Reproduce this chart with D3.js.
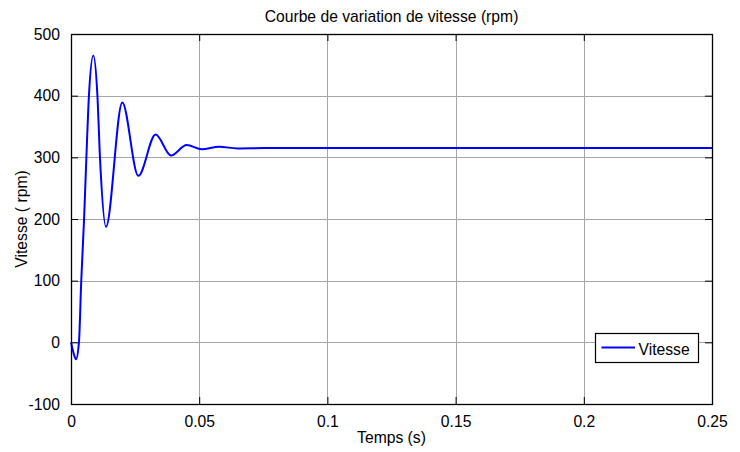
<!DOCTYPE html>
<html>
<head>
<meta charset="utf-8">
<script src="https://cdn.jsdelivr.net/npm/d3@7"></script>
<style>
  html, body { margin: 0; padding: 0; background: #fff; }
  svg { display: block; }
  text { font-family: "Liberation Sans", Arial, Helvetica, sans-serif; fill: #000; }
</style>
</head>
<body>
<svg id="chart" width="740" height="452"></svg>
<script>
// Speed response samples (time in s, speed in rpm)
const timeS = [0, 0.00105, 0.00195, 0.0031, 0.0040, 0.0051, 0.0060, 0.0070, 0.0087,
               0.0103, 0.0113, 0.01365, 0.0200, 0.02625,
               0.0330, 0.0390, 0.0451, 0.0510, 0.0578, 0.0650, 0.0750, 0.25];
const speedRpm = [0, -18, -27.5, 0, 100, 200, 300, 400, 465,
                  400, 300, 187.5, 389, 270,
                  337, 303, 320, 313, 317, 314.5, 315, 315];

const xTicks = [0, 0.05, 0.1, 0.15, 0.2, 0.25];
const xTickLabels = ["0", "0.05", "0.1", "0.15", "0.2", "0.25"];
const yTicks = [-100, 0, 100, 200, 300, 400, 500];
const yTickLabels = ["-100", "0", "100", "200", "300", "400", "500"];

const titleText = "Courbe de variation de vitesse (rpm)";
const xLabelText = "Temps (s)";
const yLabelText = "Vitesse ( rpm)";
const seriesName = "Vitesse";

const svg = d3.select("#chart");
const L = 71, R = 712, T = 34, B = 404;
const FS = "15.7px";

const x = d3.scaleLinear().domain([0, 0.25]).range([L, R]);
const y = d3.scaleLinear().domain([-100, 500]).range([B, T]);

// grid
const grid = svg.append("g").attr("stroke", "#a6a6a6").attr("stroke-width", 1);
grid.selectAll("line.gx").data(xTicks.slice(1, -1)).enter().append("line")
  .attr("x1", d => Math.round(x(d)) + 0.5).attr("x2", d => Math.round(x(d)) + 0.5)
  .attr("y1", T).attr("y2", B);
grid.selectAll("line.gy").data(yTicks.slice(1, -1)).enter().append("line")
  .attr("y1", d => Math.round(y(d)) + 0.5).attr("y2", d => Math.round(y(d)) + 0.5)
  .attr("x1", L).attr("x2", R);

// speed curve
const line = d3.line()
  .x((d, i) => x(timeS[i]))
  .y(d => y(d))
  .curve(d3.curveMonotoneX);
svg.append("path")
  .datum(speedRpm)
  .attr("fill", "none")
  .attr("stroke", "#0000ff")
  .attr("stroke-width", 2)
  .attr("stroke-linejoin", "round")
  .attr("d", line);

// axes with inward ticks on all four sides
const tickLen = 7;
const xb = svg.append("g").attr("transform", `translate(0,${B})`)
  .call(d3.axisBottom(x).tickValues(xTicks).tickSizeInner(-tickLen).tickSizeOuter(0)
    .tickPadding(tickLen + 5).tickFormat((d, i) => xTickLabels[i]));
const xt = svg.append("g").attr("transform", `translate(0,${T})`)
  .call(d3.axisTop(x).tickValues(xTicks).tickSizeInner(-tickLen).tickSizeOuter(0).tickFormat(""));
const yl = svg.append("g").attr("transform", `translate(${L},0)`)
  .call(d3.axisLeft(y).tickValues(yTicks).tickSizeInner(-tickLen).tickSizeOuter(0)
    .tickPadding(tickLen + 4).tickFormat((d, i) => yTickLabels[i]));
const yr = svg.append("g").attr("transform", `translate(${R},0)`)
  .call(d3.axisRight(y).tickValues(yTicks).tickSizeInner(-tickLen).tickSizeOuter(0).tickFormat(""));

[xb, xt, yl, yr].forEach(g => {
  g.select(".domain").remove();
  g.selectAll(".tick line").attr("stroke", "#000").attr("stroke-width", 1);
  g.selectAll("text").attr("font-size", FS).attr("font-family", null).attr("fill", "#000");
});

// frame
svg.append("rect")
  .attr("x", L + 0.5).attr("y", T + 0.5)
  .attr("width", R - L).attr("height", B - T)
  .attr("fill", "none").attr("stroke", "#000").attr("stroke-width", 1.3);

// title and axis labels
svg.append("text").attr("x", (L + R) / 2).attr("y", 22)
  .attr("text-anchor", "middle").attr("font-size", FS).text(titleText);
svg.append("text").attr("x", (L + R) / 2).attr("y", 443)
  .attr("text-anchor", "middle").attr("font-size", FS).text(xLabelText);
svg.append("text")
  .attr("transform", `translate(27,${(T + B) / 2}) rotate(-90)`)
  .attr("text-anchor", "middle").attr("font-size", FS).text(yLabelText);

// legend
const lg = svg.append("g");
lg.append("rect").attr("x", 595.5).attr("y", 333.5).attr("width", 103).attr("height", 29)
  .attr("fill", "#fff").attr("stroke", "#000").attr("stroke-width", 1.2);
lg.append("line").attr("x1", 601.5).attr("x2", 635).attr("y1", 347.5).attr("y2", 347.5)
  .attr("stroke", "#0000ff").attr("stroke-width", 2);
lg.append("text").attr("x", 638.5).attr("y", 354.5).attr("font-size", FS).text(seriesName);
</script>
</body>
</html>
